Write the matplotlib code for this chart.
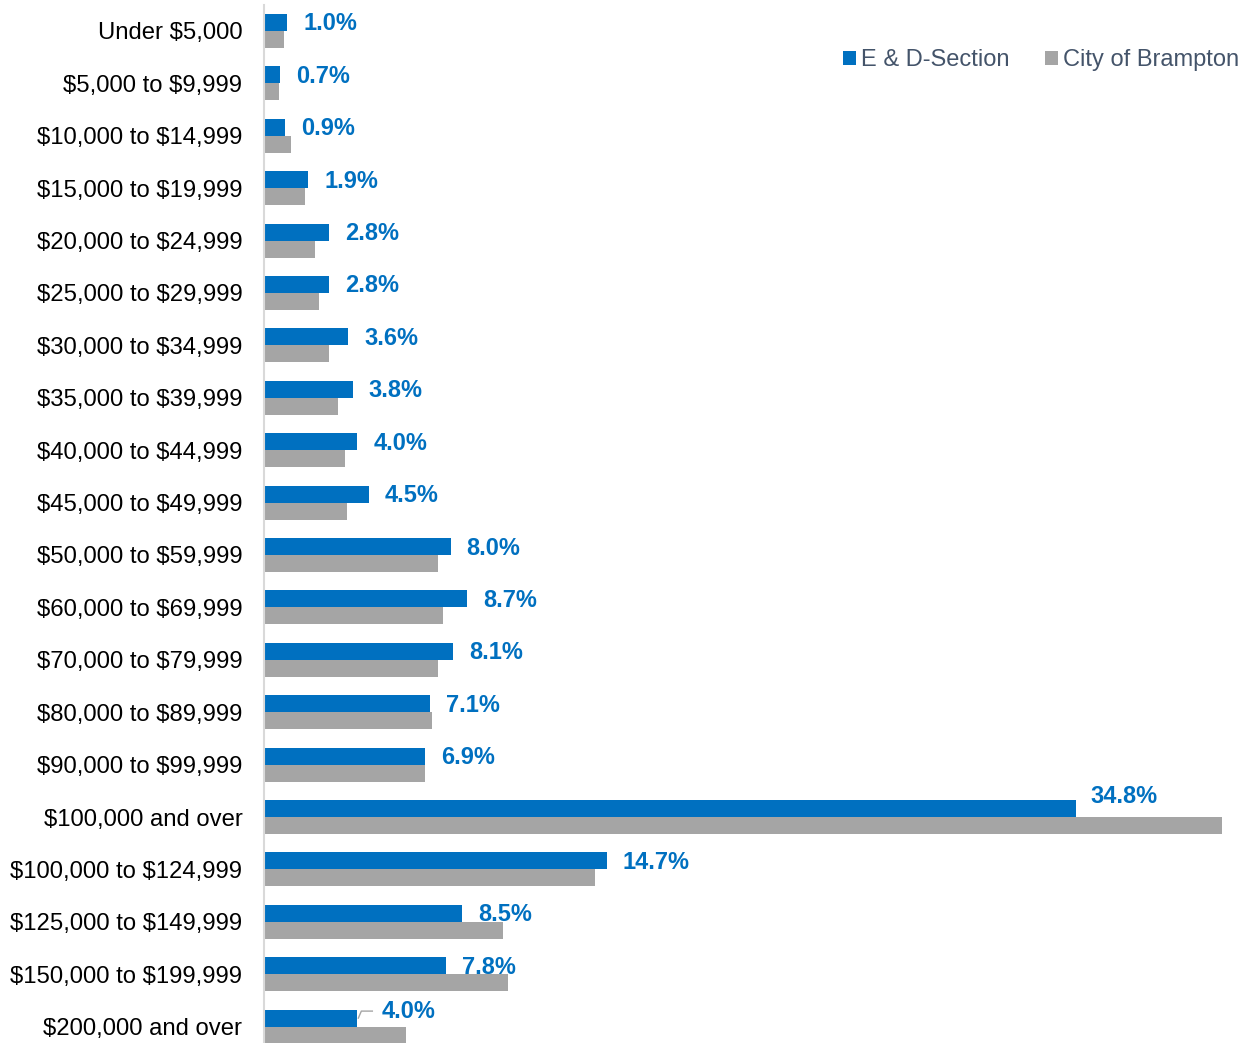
import matplotlib.pyplot as plt
import numpy as np

plt.rcParams['font.family'] = ['Liberation Sans', 'DejaVu Sans']
plt.rcParams['text.parse_math'] = False

# household income brackets
categories = [
    'Under $5,000', '$5,000 to $9,999', '$10,000 to $14,999', '$15,000 to $19,999',
    '$20,000 to $24,999', '$25,000 to $29,999', '$30,000 to $34,999', '$35,000 to $39,999',
    '$40,000 to $44,999', '$45,000 to $49,999', '$50,000 to $59,999', '$60,000 to $69,999',
    '$70,000 to $79,999', '$80,000 to $89,999', '$90,000 to $99,999', '$100,000 and over',
    '$100,000 to $124,999', '$125,000 to $149,999', '$150,000 to $199,999', '$200,000 and over',
]
section_pct = [1.0, 0.7, 0.9, 1.9, 2.8, 2.8, 3.6, 3.8, 4.0, 4.5,
               8.0, 8.7, 8.1, 7.1, 6.9, 34.8, 14.7, 8.5, 7.8, 4.0]
city_pct = [0.85, 0.65, 1.15, 1.75, 2.2, 2.35, 2.8, 3.15, 3.45, 3.55,
            7.45, 7.65, 7.45, 7.2, 6.9, 41.05, 14.2, 10.25, 10.45, 6.1]
series_names = ['E & D-Section', 'City of Brampton']

BLUE = '#0070C0'
GRAY = '#A5A5A5'

W, H = 1253, 1043
fig = plt.figure(figsize=(W / 100, H / 100), dpi=100)
# axes placed in pixel terms: left edge at x=264, rows 52.4 px apart
pitch = 52.4
top_px = 31 - pitch / 2
bot_px = top_px + pitch * len(categories)
ax = fig.add_axes([264 / W, 1 - bot_px / H, (1240 - 264) / W, (bot_px - top_px) / H])

y = np.arange(len(categories))
bh = 17 / pitch
ax.barh(y - bh / 2, section_pct, height=bh, color=BLUE, label=series_names[0])
ax.barh(y + bh / 2, city_pct, height=bh, color=GRAY, label=series_names[1])

px_per_unit = (1076 - 264) / 34.8
ax.set_xlim(0, (1240 - 264) / px_per_unit)
ax.set_ylim(len(categories) - 0.5, -0.5)

ax.set_yticks(y)
ax.set_yticklabels(categories, fontsize=17.2, color='black')
ax.tick_params(axis='y', length=0, pad=15.5)
ax.set_xticks([])
for s in ['top', 'right', 'bottom']:
    ax.spines[s].set_visible(False)
ax.spines['left'].set_color('#D9D9D9')
ax.spines['left'].set_linewidth(1.5)

off = 16 / px_per_unit
for i, v in enumerate(section_pct):
    yy = i - bh / 2 + 1.5 / pitch
    xx = v + off
    if i == 15:
        yy = i - bh / 2 - 12 / pitch
        xx = v + 14 / px_per_unit
    if i == len(categories) - 1:
        yy = i - bh / 2 - 7 / pitch
        xx = v + 24 / px_per_unit
        ax.plot([v + 1 / px_per_unit, v + 4 / px_per_unit, v + 15 / px_per_unit],
                [i - bh / 2, yy, yy], color='#A5A5A5', lw=1)
    ax.text(xx, yy, f'{v:.1f}%', color=BLUE, fontsize=17, fontweight='bold',
            ha='left', va='center')

leg = fig.legend(loc='center right', bbox_to_anchor=(1260 / W, 1 - 60 / H), ncol=2,
                 frameon=False, fontsize=17, handlelength=0.55, handleheight=0.55,
                 handletextpad=0.2, columnspacing=1.5)
for t in leg.get_texts():
    t.set_color('#44546A')

fig.savefig('out.png', dpi=100, facecolor='white')
